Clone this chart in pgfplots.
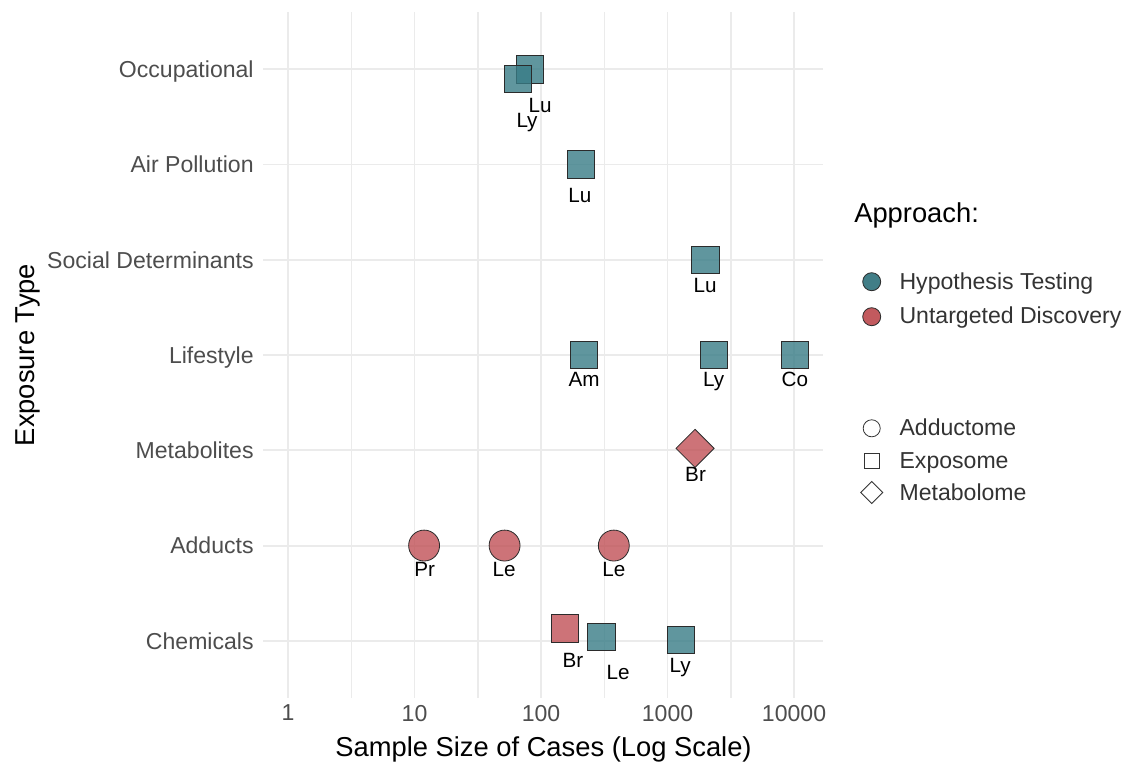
\documentclass[border=0pt]{standalone}
\usepackage{pgfplots}
\pgfplotsset{compat=1.18}
\usepackage{fontspec}
\setmainfont{Liberation Sans}
\definecolor{teal0}{HTML}{387C86}
\definecolor{red0}{HTML}{C05056}
\definecolor{tealkey}{HTML}{417E87}
\definecolor{redkey}{HTML}{C25A5E}
\definecolor{gridc}{HTML}{EBEBEB}
\definecolor{tickc}{HTML}{4D4D4D}
\definecolor{edgec}{HTML}{2B2B2B}
\definecolor{legc}{HTML}{333333}
\begin{document}
\begin{tikzpicture}
\begin{axis}[
  at={(263*0.75pt,-698*0.75pt)}, anchor=south west,
  scale only axis, width=420pt, height=514.5pt,
  xmode=log, xmin=0.634, xmax=16940, ymin=0.4, ymax=7.6,
  clip=false,
  axis line style={draw=none}, major tick style={draw=none}, minor tick style={draw=none},
  xtick={1,10,100,1000,10000}, xticklabels={1,10,100,1000,10000},
  minor xtick={3.1623,31.623,316.23,3162.3},
  ytick={1,2,3,4,5,6,7},
  yticklabels={Chemicals,Adducts,Metabolites,Lifestyle,Social Determinants,Air Pollution,Occupational},
  xmajorgrids=true, ymajorgrids=true, xminorgrids=true,
  major grid style={gridc, line width=1.4pt},
  minor grid style={gridc, line width=1.1pt},
  ticklabel style={font=\fontsize{17.3}{20}\selectfont, text=tickc},
  yticklabel style={anchor=base east, yshift=-6.2pt, xshift=-3.5pt},
  xticklabel style={yshift=-1.7pt},
]
% Hypothesis testing, exposome
\addplot[only marks, mark=square*, mark size=10.3pt,
  mark options={fill=teal0, fill opacity=0.8, draw=edgec, line width=0.6pt}] table{
x y
81.3 7.0
65.8 6.90
207 6.0
1996 5.0
219 4.0
2318 4.0
10200 4.0
300 1.044
1279 1.009
};
% Untargeted discovery, exposome
\addplot[only marks, mark=square*, mark size=10.3pt,
  mark options={fill=red0, fill opacity=0.8, draw=edgec, line width=0.6pt}] table{
x y
154 1.13
};
% Untargeted discovery, adductome
\addplot[only marks, mark=*, mark size=11.6pt,
  mark options={fill=red0, fill opacity=0.8, draw=edgec, line width=0.6pt}] table{
x y
11.9 2
51.5 2
376 2
};
% Untargeted discovery, metabolome
\addplot[only marks, mark=square*, mark size=10.1pt,
  mark options={rotate=45, fill=red0, fill opacity=0.8, draw=edgec, line width=0.6pt}] table{
x y
1649 3.02
};
% point labels
\addplot[only marks, mark=none, nodes near coords, point meta=explicit symbolic,
  nodes near coords align={anchor=base},
  every node near coord/.append style={font=\fontsize{15.5}{18}\selectfont, text=black}] table[meta=label]{
x y label
98.2 6.548 Lu
77.5 6.391 Ly
203 5.603 Lu
1978 4.661 Lu
219 3.670 Am
2311 3.670 Ly
10140 3.670 Co
1665 2.675 Br
12.04 1.671 Pr
51.0 1.671 Le
376 1.671 Le
179 0.719 Br
406 0.592 Le
1256 0.666 Ly
};
\end{axis}
\begin{scope}[x=0.75pt,y=-0.75pt]
\path (0,0) rectangle (1130,760);
\node[anchor=base, font=\fontsize{20.5}{24}\selectfont] at (543.5,756) {Sample Size of Cases (Log Scale)};
\node[rotate=90, anchor=base, font=\fontsize{20.5}{24}\selectfont] at (34.6,355) {Exposure Type};
\node[anchor=base west, inner sep=0pt, font=\fontsize{20.5}{24}\selectfont] at (854,222) {Approach:};
\filldraw[fill=tealkey, draw=edgec, line width=0.6pt] (871.7,281.7) circle[radius=6.75pt];
\filldraw[fill=redkey, draw=edgec, line width=0.6pt] (871.7,316.7) circle[radius=6.75pt];
\draw[draw=legc, line width=0.6pt] (871.7,428.3) circle[radius=6.4pt];
\draw[draw=legc, line width=0.6pt] (864.2,453.5) rectangle (879.2,468.5);
\draw[draw=legc, line width=0.6pt] (871.7,481.5) -- (882.7,492.5) -- (871.7,503.5) -- (860.7,492.5) -- cycle;
\begin{scope}[every node/.style={anchor=base west, inner sep=0pt, text=legc, font=\fontsize{17.3}{20}\selectfont}]
\node at (899.3,289.3) {Hypothesis Testing};
\node at (899.3,323.3) {Untargeted Discovery};
\node at (899.3,435) {Adductome};
\node at (899.3,468.3) {Exposome};
\node at (899.3,500) {Metabolome};
\end{scope}
\end{scope}
\end{tikzpicture}
\end{document}
